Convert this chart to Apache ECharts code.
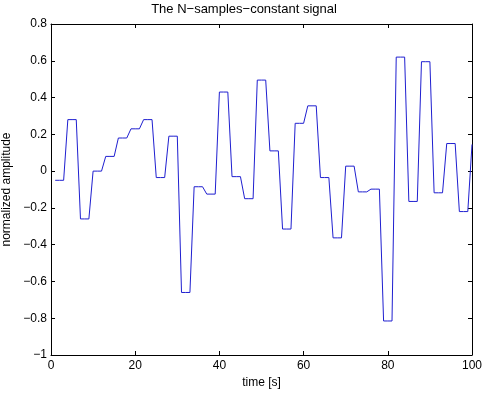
<!DOCTYPE html>
<html>
<head>
<meta charset="utf-8">
<script src="https://cdn.jsdelivr.net/npm/echarts@6/dist/echarts.min.js"></script>
<style>html,body{margin:0;padding:0;background:#fff;}#c{width:488px;height:397px;}</style>
</head>
<body>
<div id="c"></div>
<script>
const titleText = "The N\u2212samples\u2212constant signal";
const xLabel = "time [s]";
const yLabel = "normalized amplitude";
const times = [1,2,3,4,5,6,7,8,9,10,11,12,13,14,15,16,17,18,19,20,21,22,23,24,25,26,27,28,29,30,31,32,33,34,35,36,37,38,39,40,41,42,43,44,45,46,47,48,49,50,51,52,53,54,55,56,57,58,59,60,61,62,63,64,65,66,67,68,69,70,71,72,73,74,75,76,77,78,79,80,81,82,83,84,85,86,87,88,89,90,91,92,93,94,95,96,97,98,99,100];
const amplitude = [
  -0.05,-0.05,-0.05, 0.28,0.28,0.28, -0.26,-0.26,-0.26, 0.0,0.0,0.0,
  0.08,0.08,0.08, 0.18,0.18,0.18, 0.23,0.23,0.23, 0.28,0.28,0.28,
  -0.035,-0.035,-0.035, 0.19,0.19,0.19, -0.66,-0.66,-0.66, -0.085,-0.085,-0.085,
  -0.125,-0.125,-0.125, 0.43,0.43,0.43, -0.03,-0.03,-0.03, -0.15,-0.15,-0.15,
  0.495,0.495,0.495, 0.11,0.11,0.11, -0.315,-0.315,-0.315, 0.26,0.26,0.26,
  0.355,0.355,0.355, -0.035,-0.035,-0.035, -0.363,-0.363,-0.363, 0.027,0.027,0.027,
  -0.113,-0.113,-0.113, -0.098,-0.098,-0.098, -0.815,-0.815,-0.815, 0.62,0.62,0.62,
  -0.165,-0.165,-0.165, 0.595,0.595,0.595, -0.118,-0.118,-0.118, 0.15,0.15,0.15,
  -0.22,-0.22,-0.22, 0.145
];
const fmt = v => {
  let s = (Math.round(v*10)/10).toString();
  return s.replace('-', '\u2212');
};
const font = 'Liberation Sans, Arial, sans-serif';
const chart = echarts.init(document.getElementById('c'), null, {renderer:'canvas'});
const axisLine = {show:true, onZero:false, lineStyle:{color:'#000', width:1}};
const tick = {show:true, inside:true, length:4, lineStyle:{color:'#000'}};
chart.setOption({
  animation:false,
  backgroundColor:'#fff',
  title:{text:titleText, left:'center', top:-2, textStyle:{fontFamily:font, fontSize:13, fontWeight:'normal', color:'#000'}},
  grid:{left:51, right:16, top:24, bottom:42, containLabel:false, outerBoundsMode:'none'},
  xAxis:[
    {type:'value', min:0, max:100, interval:20, position:'bottom',
     axisLine:axisLine, axisTick:tick, splitLine:{show:false},
     axisLabel:{color:'#000', fontFamily:font, fontSize:12, margin:5},
     name:xLabel, nameLocation:'middle', nameGap:22, nameTextStyle:{color:'#000', fontFamily:font, fontSize:12}},
    {type:'value', min:0, max:100, interval:20, position:'top',
     axisLine:axisLine, axisTick:tick, splitLine:{show:false}, axisLabel:{show:false}}
  ],
  yAxis:[
    {type:'value', min:-1, max:0.8, interval:0.2, position:'left',
     axisLine:axisLine, axisTick:tick, splitLine:{show:false},
     axisLabel:{color:'#000', fontFamily:font, fontSize:12, margin:4, formatter:fmt},
     name:yLabel, nameLocation:'middle', nameGap:34, nameRotate:90, nameTextStyle:{color:'#000', fontFamily:font, fontSize:12}},
    {type:'value', min:-1, max:0.8, interval:0.2, position:'right',
     axisLine:axisLine, axisTick:tick, splitLine:{show:false}, axisLabel:{show:false}}
  ],
  series:[{
    type:'line', xAxisIndex:0, yAxisIndex:0,
    data: times.map((t,i)=>[t, amplitude[i]]),
    symbol:'none', lineStyle:{color:'#1f1fd0', width:1}
  }]
});
</script>
</body>
</html>
